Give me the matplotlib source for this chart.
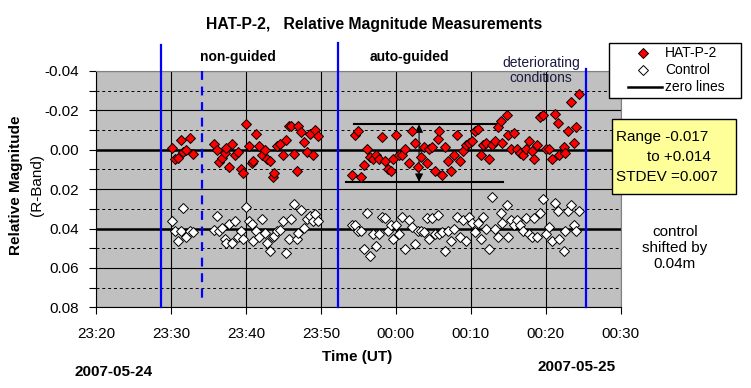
import matplotlib
matplotlib.use("Agg")
import matplotlib.pyplot as plt
from matplotlib.patches import Rectangle
from matplotlib.lines import Line2D
from matplotlib.ticker import MultipleLocator, FormatStrFormatter

plt.rcParams['font.family'] = ['Liberation Sans', 'DejaVu Sans']
plt.rcParams['axes.unicode_minus'] = False

# time in minutes after 23:20 UT (2007-05-24)
ng_time = [10.2, 10.5, 10.9, 11.3, 11.6, 12.0, 12.5, 12.9,
           15.7, 16.1, 16.4, 16.8, 17.2, 17.4, 17.8, 18.2, 18.6, 18.9, 19.3, 19.6,
           20.0, 20.4, 20.8, 21.0, 21.4, 21.7, 22.1, 22.5, 22.8, 23.2, 23.6, 23.8,
           24.2, 24.6, 24.9, 25.3, 25.7, 26.0, 26.4, 26.8, 27.0, 27.4, 27.8, 28.1,
           28.5, 28.9, 29.2, 29.6]
ng_hat = [-0.0009, 0.0045, 0.0040, -0.0050, 0.0010, 0.0000, -0.0060, 0.0023,
          -0.0030, 0.0000, 0.0060, 0.0040, 0.0015, -0.0010, 0.0087, -0.0030, 0.0025, 0.0010, 0.0096, 0.0118,
          -0.0130, -0.0020, 0.0067, 0.0057, -0.0080, -0.0020, 0.0026, 0.0000, 0.0045, 0.0057, 0.0136, 0.0118,
          -0.0020, -0.0030, 0.0026, -0.0050, -0.0120, -0.0120, 0.0020, 0.0108, -0.0120, -0.0090, -0.0040, 0.0010,
          -0.0080, 0.0026, -0.0100, -0.0070]
ng_ctrl = [0.0361, 0.0410, 0.0461, 0.0410, 0.0298, 0.0441, 0.0410, 0.0420,
           0.0405, 0.0334, 0.0410, 0.0395, 0.0451, 0.0471, 0.0375, 0.0471, 0.0364, 0.0441, 0.0415, 0.0451,
           0.0293, 0.0364, 0.0375, 0.0461, 0.0415, 0.0441, 0.0354, 0.0425, 0.0471, 0.0512, 0.0441, 0.0436,
           0.0415, 0.0405, 0.0364, 0.0522, 0.0451, 0.0354, 0.0273, 0.0451, 0.0425, 0.0304, 0.0395, 0.0354,
           0.0334, 0.0364, 0.0324, 0.0364]

ag_time = [34.2, 34.6, 35.0, 35.3, 35.7, 36.2, 36.6, 37.0, 37.4, 37.8, 38.1, 38.5, 38.9, 39.3, 39.6,
           40.0, 40.4, 40.8, 41.2, 41.7, 42.1, 42.5, 42.9, 43.3, 43.7, 44.1, 44.4, 44.8, 45.2, 45.6,
           45.8, 46.2, 46.6, 47.0, 47.4, 47.8, 48.2, 48.6, 48.9, 49.3, 49.7, 50.1, 50.5, 50.9,
           51.3, 51.6, 52.0, 52.4, 52.8, 53.2, 53.6, 54.0, 54.2, 54.8, 55.0, 55.4, 55.8, 56.2, 56.6,
           57.0, 57.4, 57.8, 58.2, 58.5, 58.9, 59.3, 59.7, 60.0, 60.5, 60.8, 61.2, 61.6, 61.8, 62.4,
           62.6, 63.0, 63.4, 63.8, 64.1, 64.5]
ag_hat = [0.0128, -0.0074, -0.0095, 0.0138, 0.0077, -0.0004, 0.0037, 0.0047, 0.0026, 0.0047,
          -0.0065, 0.0057, 0.0097, 0.0108, 0.0047, -0.0075, 0.0026, 0.0026, -0.0004, 0.0067,
          -0.0095, -0.0035, 0.0087, 0.0037, -0.0014, 0.0067, -0.0004, -0.0014, 0.0108, -0.0055,
          -0.0095, 0.0128, -0.0014, 0.0057, 0.0108, 0.0026, -0.0075, 0.0057, 0.0006, -0.0024,
          -0.0035, -0.0045, -0.0095, -0.0106,
          0.0026, -0.0024, -0.0035, 0.0047, -0.0024, -0.0045, -0.0116, -0.0146, -0.0035, -0.0177,
          -0.0075, -0.0004, -0.0085, -0.0004, 0.0016, 0.0026, -0.0004, -0.0045, 0.0006, 0.0047,
          -0.0024, -0.0167, -0.0177, -0.0004, -0.0004, 0.0047, -0.0182, -0.0136, 0.0026, -0.0014,
          0.0016, -0.0095, -0.0241, -0.0035, -0.0116, -0.0283]
ag_ctrl = [0.0380, 0.0380, 0.0410, 0.0410, 0.0502, 0.0319, 0.0537, 0.0430, 0.0491, 0.0430,
           0.0339, 0.0349, 0.0410, 0.0380, 0.0451, 0.0380, 0.0430, 0.0339, 0.0502, 0.0359,
           0.0390, 0.0481, 0.0410, 0.0410, 0.0420, 0.0349, 0.0451, 0.0349, 0.0430, 0.0329,
           0.0430, 0.0420, 0.0512, 0.0410, 0.0461, 0.0400, 0.0339, 0.0441, 0.0359, 0.0461,
           0.0339, 0.0370, 0.0420, 0.0370,
           0.0451, 0.0339, 0.0400, 0.0502, 0.0238, 0.0400, 0.0441, 0.0319, 0.0370, 0.0278,
           0.0441, 0.0359, 0.0380, 0.0359, 0.0380, 0.0410, 0.0349, 0.0430, 0.0441, 0.0349,
           0.0441, 0.0319, 0.0248, 0.0430, 0.0390, 0.0461, 0.0268, 0.0309, 0.0451, 0.0512,
           0.0410, 0.0309, 0.0278, 0.0380, 0.0410, 0.0309]

xtick_labels = ['23:20', '23:30', '23:40', '23:50', '00:00', '00:10', '00:20', '00:30']
zero_levels = [0.0, 0.04]
# blue markers: (time, top); they run down to the bottom of the plot
solid_markers = [(8.67, -0.0532), (32.3, -0.0542), (65.4, -0.041)]
dashed_marker = (14.1, -0.04, 0.0774)
# range lines for auto-guided section
range_top = (34.4, 53.4, -0.0129)
range_bot = (33.3, 54.3, 0.0163)
arrow_x = 43.1

fig = plt.figure(figsize=(7.51, 3.88), dpi=100)
W, H = 751, 388
def fx(px):
    return px / W
def fy(py):
    return 1 - py / H

ax = fig.add_axes([fx(96), fy(307.3), fx(620.7) - fx(96), fy(71) - fy(307.3)])
ax.set_facecolor('#C0C0C0')
ax.set_xlim(0, 70)
ax.set_ylim(0.08, -0.04)

ax.set_xticks(range(0, 71, 10))
ax.set_xticklabels(xtick_labels)
ax.yaxis.set_major_locator(MultipleLocator(0.02))
ax.yaxis.set_minor_locator(MultipleLocator(0.01))
ax.yaxis.set_major_formatter(FormatStrFormatter('%.2f'))
ax.tick_params(axis='both', which='both', direction='out', length=5, width=0.8, labelsize=11)
ax.tick_params(axis='x', pad=9)
ax.tick_params(axis='y', pad=7)

ax.grid(axis='x', which='major', color='black', lw=0.8, zorder=1)
ax.grid(axis='y', which='major', color='black', lw=0.8, zorder=1)
ax.grid(axis='y', which='minor', color='black', lw=0.7, ls=(0, (3, 3)), zorder=1)
ax.set_axisbelow(True)
for s in ['top', 'right']:
    ax.spines[s].set_color('#808080')
for s in ['left', 'bottom']:
    ax.spines[s].set_color('black')

for z in zero_levels:
    ax.axhline(z, color='black', lw=1.8, zorder=2)

for t, top in solid_markers:
    ax.plot([t, t], [top, 0.08], color='#0000FF', lw=1.6, clip_on=False, zorder=3)
ax.plot([dashed_marker[0]] * 2, dashed_marker[1:], color='#0000FF', lw=1.6,
        ls=(0, (4, 3)), clip_on=False, zorder=3)

ax.plot(range_top[:2], [range_top[2]] * 2, color='black', lw=1.5, zorder=3)
ax.plot(range_bot[:2], [range_bot[2]] * 2, color='black', lw=1.5, zorder=3)
ax.annotate('', xy=(arrow_x, range_bot[2]), xytext=(arrow_x, range_top[2]),
            arrowprops=dict(arrowstyle='<|-|>', color='black', lw=0.8,
                            mutation_scale=12, shrinkA=0, shrinkB=0), zorder=3)

mk = dict(ls='none', marker='D', ms=4.6, mec='black', mew=0.7, zorder=4)
ax.plot(ng_time + ag_time, ng_hat + ag_hat, mfc='#FF0000', **mk)
ax.plot(ng_time + ag_time, ng_ctrl + ag_ctrl, mfc='white', **mk)

# texts
fig.text(fx(374), fy(25), 'HAT-P-2,   Relative Magnitude Measurements', ha='center',
         va='center', fontsize=11.3, fontweight='bold')
fig.text(fx(238), fy(57), 'non-guided', ha='center', va='center', fontsize=10, fontweight='bold')
fig.text(fx(409), fy(57), 'auto-guided', ha='center', va='center', fontsize=10, fontweight='bold')
fig.text(fx(541), fy(70.5), 'deteriorating\nconditions', ha='center', va='center', fontsize=10,
         color='#1a1a40', linespacing=1.15)
fig.text(fx(357), fy(357), 'Time (UT)', ha='center', va='center', fontsize=11, fontweight='bold')
fig.text(fx(114), fy(372), '2007-05-24', ha='center', va='center', fontsize=11, fontweight='bold')
fig.text(fx(577), fy(367), '2007-05-25', ha='center', va='center', fontsize=11, fontweight='bold')
fig.text(fx(16), fy(185), 'Relative Magnitude', rotation=90, ha='center', va='center',
         fontsize=11, fontweight='bold')
fig.text(fx(37), fy(185), '(R-Band)', rotation=90, ha='center', va='center', fontsize=11)
fig.text(fx(675), fy(248), 'control\nshifted by\n0.04m', ha='center', va='center',
         fontsize=11, linespacing=1.2)

# legend box
fig.patches.append(Rectangle((fx(609), fy(98)), fx(741) - fx(609), fy(43) - fy(98),
                             transform=fig.transFigure, facecolor='white', edgecolor='black', lw=1))
leg_rows = [(53, 'HAT-P-2', '#FF0000'), (70, 'Control', 'white'), (87, 'zero lines', None)]
for py, lab, col in leg_rows:
    if col is None:
        fig.lines.append(Line2D([fx(628), fx(662)], [fy(py), fy(py)], transform=fig.transFigure,
                                color='black', lw=1.8))
    else:
        fig.lines.append(Line2D([fx(643)], [fy(py)], transform=fig.transFigure, marker='D',
                                ms=4.6, mfc=col, mec='black', mew=0.7))
    fig.text(fx(665), fy(py), lab, ha='left', va='center', fontsize=10)

# statistics box
fig.patches.append(Rectangle((fx(612), fy(194)), fx(736) - fx(612), fy(119) - fy(194),
                             transform=fig.transFigure, facecolor='#FFFF99', edgecolor='black', lw=1))
fig.text(fx(616), fy(137), 'Range -0.017', ha='left', va='center', fontsize=11)
fig.text(fx(647), fy(157), 'to +0.014', ha='left', va='center', fontsize=11)
fig.text(fx(616), fy(177), 'STDEV =0.007', ha='left', va='center', fontsize=11)

fig.savefig('out.png', dpi=100)
